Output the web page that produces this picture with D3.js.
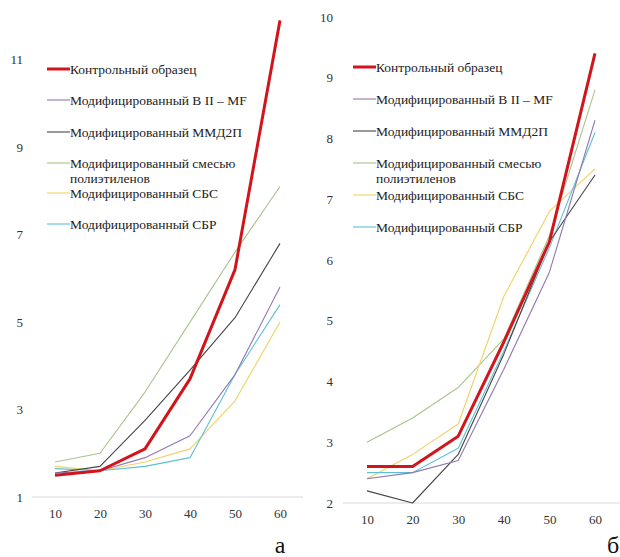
<!DOCTYPE html>
<html>
<head>
<meta charset="utf-8">
<script src="https://cdn.jsdelivr.net/npm/d3@7"></script>
<style>
  body { margin:0; background:#fff; }
</style>
</head>
<body>
<svg id="chart"></svg>
<script>
// data
var categories = ['10','20','30','40','50','60'];
var seriesNames = ['Контрольный образец','Модифицированный В II – MF','Модифицированный ММД2П',
  'Модифицированный смесью\nполиэтиленов','Модифицированный СБС','Модифицированный СБР'];
var seriesColors = ['#d2151c','#8f78b0','#454545','#a9c48c','#f2d064','#5cc0d8'];

// panel а
var ticksA = [1,3,5,7,9,11];
var controlA = [1.5,1.6,2.1,3.7,6.2,11.9];
var b2mfA    = [1.55,1.6,1.9,2.4,3.8,5.8];
var mmd2pA   = [1.55,1.7,2.75,3.9,5.1,6.8];
var peA      = [1.8,2.0,3.4,5.0,6.6,8.1];
var sbsA     = [1.7,1.6,1.8,2.1,3.2,5.0];
var sbrA     = [1.65,1.6,1.7,1.9,3.8,5.4];

// panel б
var ticksB = [2,3,4,5,6,7,8,9,10];
var controlB = [2.6,2.6,3.1,4.65,6.3,9.4];
var b2mfB    = [2.4,2.5,2.7,4.2,5.8,8.3];
var mmd2pB   = [2.2,2.0,2.8,4.45,6.3,7.4];
var peB      = [3.0,3.4,3.9,4.7,6.4,8.8];
var sbsB     = [2.4,2.8,3.3,5.4,6.8,7.5];
var sbrB     = [2.5,2.5,2.9,4.5,6.2,8.1];

var FONT = 'Liberation Serif';
var width = 620, height = 557;
var svg = d3.select('#chart').attr('width',width).attr('height',height);

var panels = [
  {series:[controlA,b2mfA,mmd2pA,peA,sbsA,sbrA], ticks:ticksA, yDom:[1,12],
   yRange:[497,16], xRange:[55,280], axisX:[32,303], tickX:23, labY:17,
   legX:47, legY:[69,100,132,163,193,224], letter:'а', letterX:280},
  {series:[controlB,b2mfB,mmd2pB,peB,sbsB,sbrB], ticks:ticksB, yDom:[2,10],
   yRange:[503,17], xRange:[367,595], axisX:[343,620], tickX:333, labY:17,
   legX:353, legY:[67,99,131,163,195,227], letter:'б', letterX:613}
];

panels.forEach(function(p){
  var g = svg.append('g');
  var x = d3.scalePoint().domain(categories).range(p.xRange);
  var y = d3.scaleLinear().domain(p.yDom).range(p.yRange);

  // baseline
  g.append('line')
    .attr('x1',p.axisX[0]).attr('x2',p.axisX[1])
    .attr('y1',y(p.yDom[0])).attr('y2',y(p.yDom[0]))
    .style('stroke','#d9d9d9').style('stroke-width',1);

  // y tick labels
  var ay = g.append('g').attr('transform','translate('+p.tickX+',0)')
    .call(d3.axisLeft(y).tickValues(p.ticks).tickSize(0).tickPadding(0));
  ay.select('.domain').remove();
  ay.selectAll('text').attr('font-family',FONT).style('font-size','13px').style('fill','#333');

  // x tick labels
  var ax = g.append('g').attr('transform','translate(0,'+(y(p.yDom[0])+p.labY)+')')
    .call(d3.axisBottom(x).tickSize(0).tickPadding(0));
  ax.select('.domain').remove();
  ax.selectAll('text').attr('dy','0.32em').attr('font-family',FONT)
    .style('font-size','13px').style('fill','#333');

  var line = d3.line().x(function(d,i){ return x(categories[i]); }).y(function(d){ return y(d); });

  // lines: thin ones first, control on top
  var order = [3,4,5,2,1,0];
  order.forEach(function(k){
    g.append('path').datum(p.series[k])
      .attr('d',line)
      .style('fill','none')
      .style('stroke',seriesColors[k])
      .style('stroke-width', k===0 ? 3 : 1.1)
      .style('stroke-linejoin','round');
  });

  // legend
  seriesNames.forEach(function(name,k){
    var ly = p.legY[k];
    g.append('line').attr('x1',p.legX).attr('x2',p.legX+23)
      .attr('y1',ly).attr('y2',ly)
      .style('stroke',seriesColors[k]).style('stroke-width',k===0?3:1.1);
    var t = g.append('text').attr('x',p.legX+23).attr('y',ly).attr('font-family',FONT)
      .style('font-size','13.5px').style('fill','#222');
    name.split('\n').forEach(function(part,j){
      t.append('tspan').attr('x',p.legX+23).attr('dy', j===0 ? '0.35em' : '15px').text(part);
    });
  });

  svg.append('text').attr('x',p.letterX).attr('y',553).attr('font-family',FONT)
    .attr('text-anchor','middle').style('font-size','24px').style('fill','#111')
    .text(p.letter);
});
</script>
</body>
</html>
